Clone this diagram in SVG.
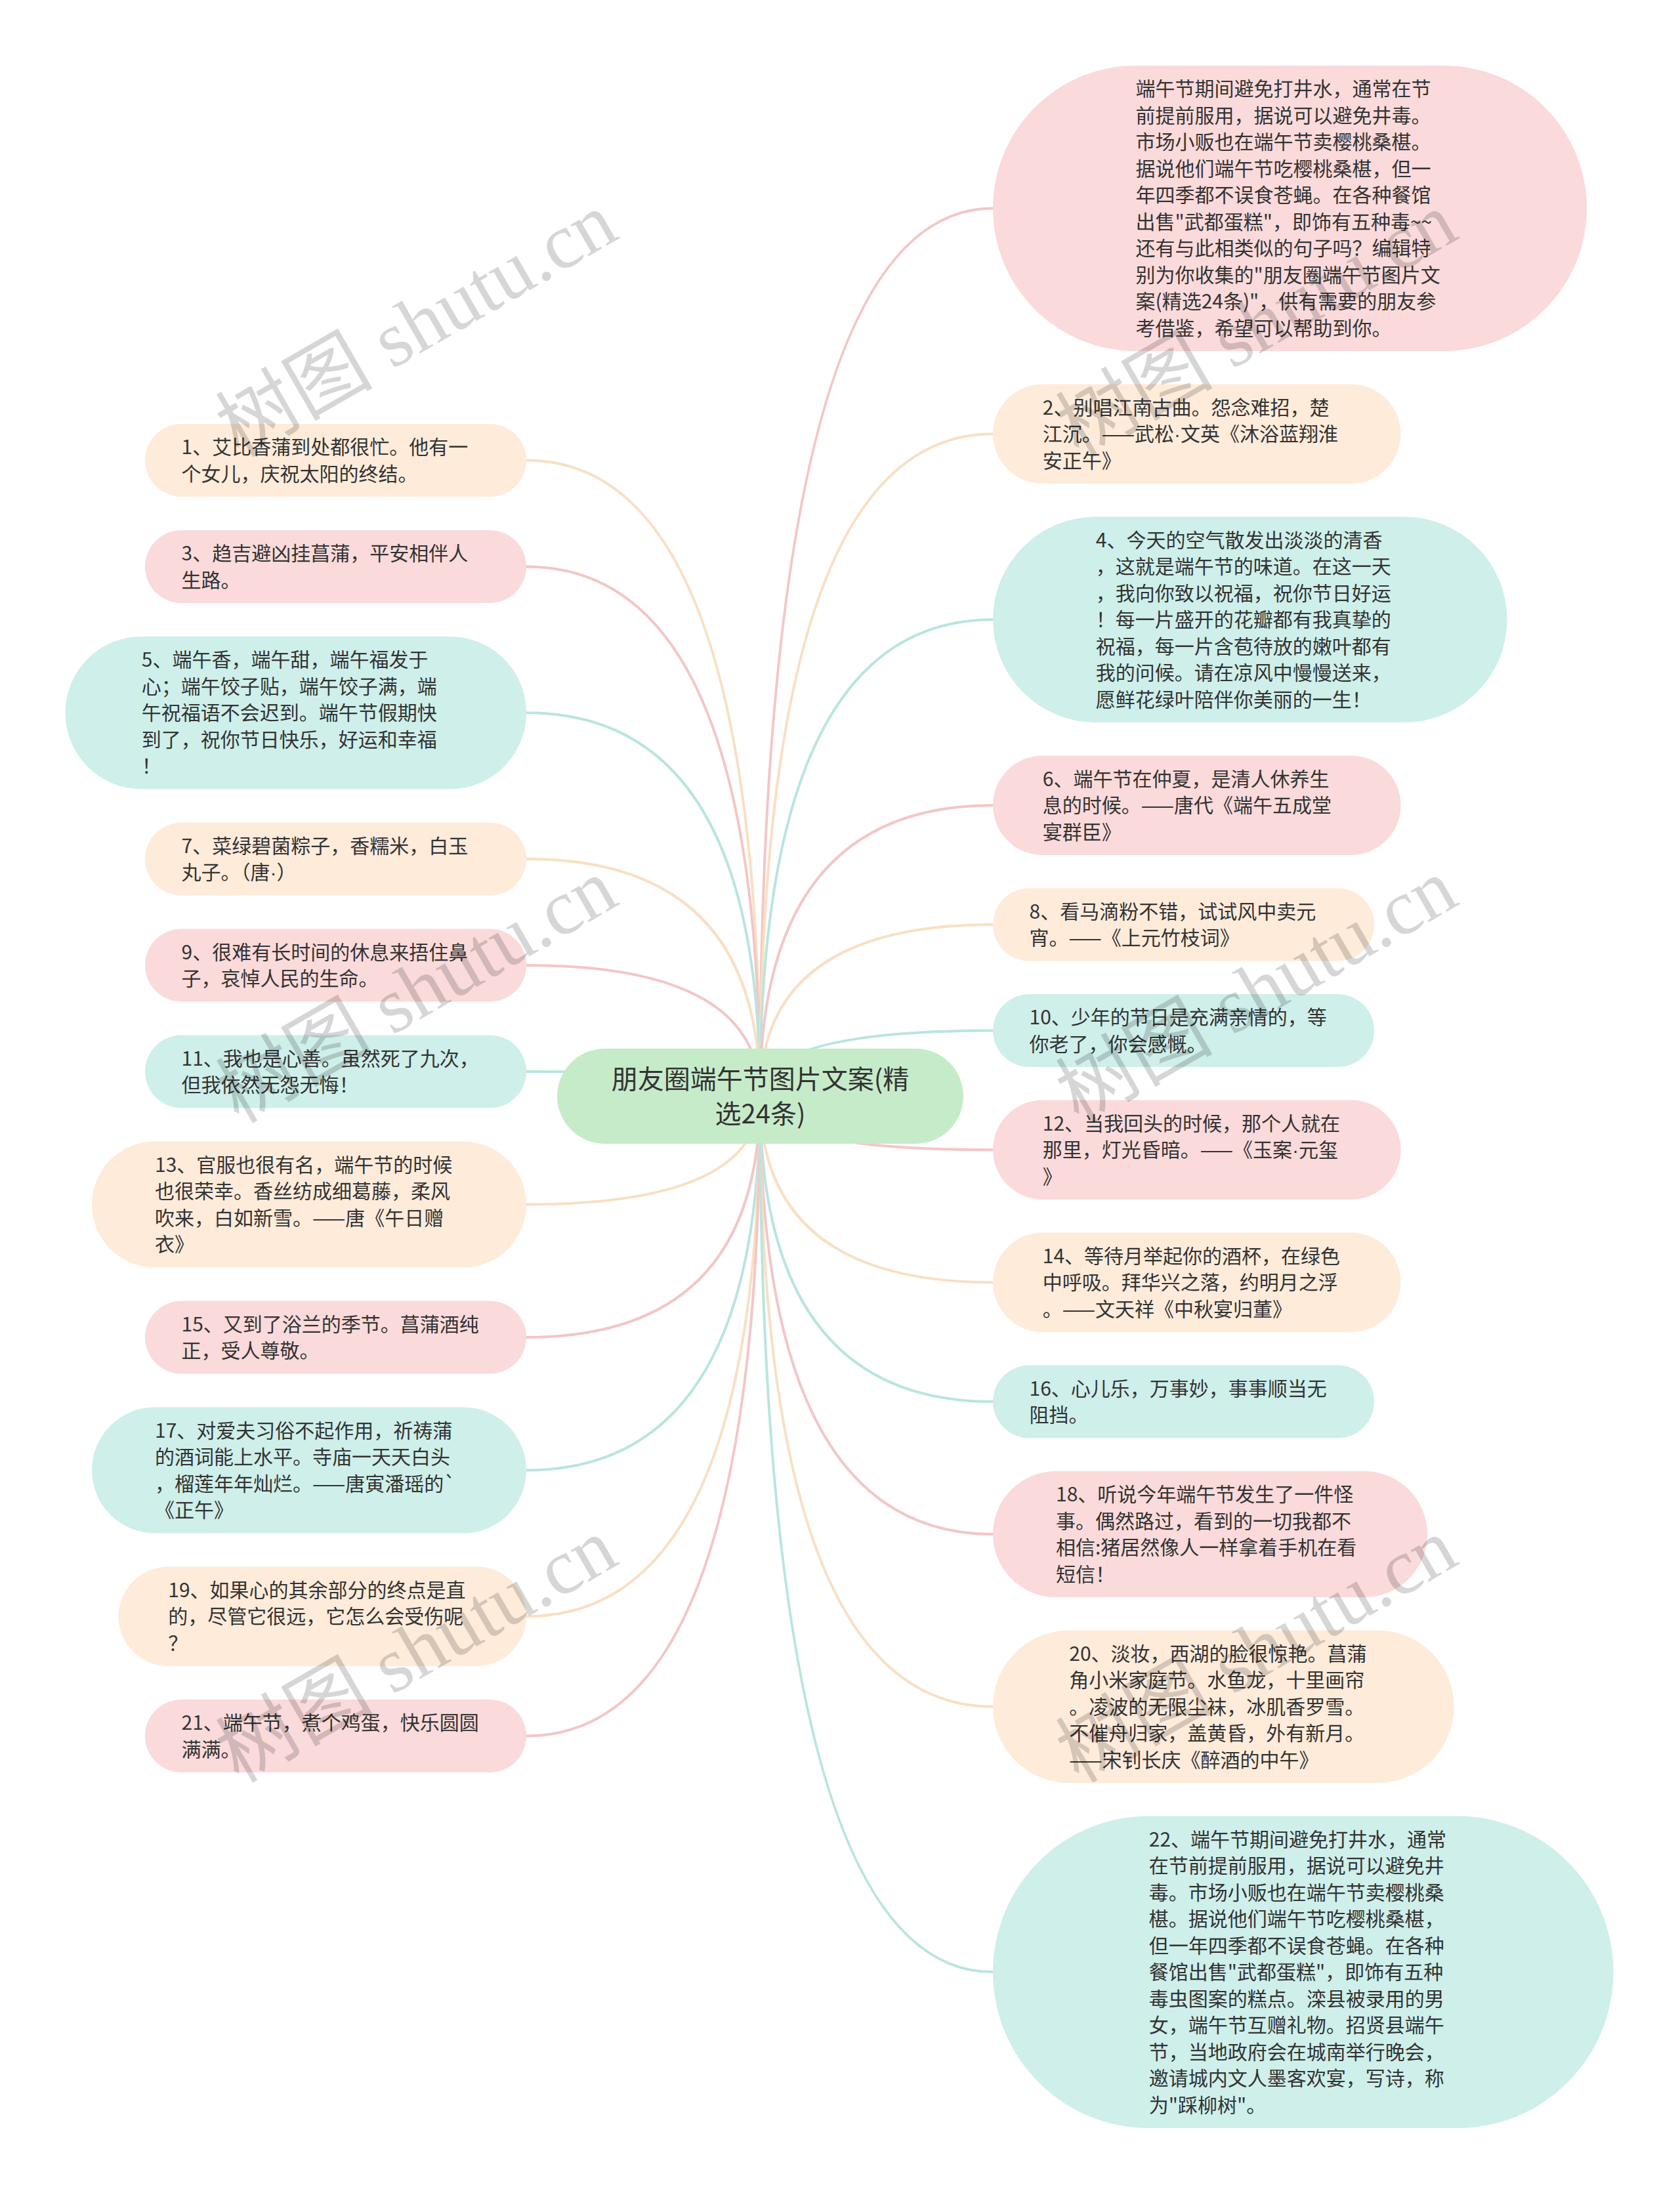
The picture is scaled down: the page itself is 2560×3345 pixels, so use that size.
<svg xmlns="http://www.w3.org/2000/svg" width="2560" height="3345" viewBox="0 0 2560 3345">
<style>
.t{font-family:"Noto Sans CJK SC","Noto Sans",sans-serif;font-size:30px;fill:#333333}
.root{font-family:"Noto Sans CJK SC","Noto Sans",sans-serif;font-size:40px;fill:#333333}
.d{font-family:"Liberation Sans",sans-serif}
.peach{fill:#FEEBDA}
.pink{fill:#FADADA}
.cyan{fill:#CEEFEA}
.green{fill:#C6EBC9}
.lp{stroke:#F9DFC3}
.lk{stroke:#F3C6C6}
.lc{stroke:#B9E5DE}
#connectors path{fill:none;stroke-width:4}
.wm{font-family:"Liberation Serif","Noto Sans CJK SC",serif;font-size:120px;fill:#000000;fill-opacity:0.16}
</style>
<rect x="0" y="0" width="2560" height="3345" fill="#ffffff"/>
<g id="connectors">
<path class="lp" d="M1158,1670 Q1158,701.5 802,701.5"/>
<path class="lk" d="M1158,1670 Q1158,863.5 802,863.5"/>
<path class="lc" d="M1158,1670 Q1158,1086.25 802,1086.25"/>
<path class="lp" d="M1158,1670 Q1158,1309 802,1309"/>
<path class="lk" d="M1158,1670 Q1158,1471 802,1471"/>
<path class="lc" d="M1158,1670 Q1158,1633 802,1633"/>
<path class="lp" d="M1158,1670 Q1158,1835.5 802,1835.5"/>
<path class="lk" d="M1158,1670 Q1158,2038 802,2038"/>
<path class="lc" d="M1158,1670 Q1158,2240.5 802,2240.5"/>
<path class="lp" d="M1158,1670 Q1158,2463.25 802,2463.25"/>
<path class="lk" d="M1158,1670 Q1158,2645.5 802,2645.5"/>
<path class="lk" d="M1158,1670 Q1158,317.5 1513,317.5"/>
<path class="lp" d="M1158,1670 Q1158,661.25 1513,661.25"/>
<path class="lc" d="M1158,1670 Q1158,944.25 1513,944.25"/>
<path class="lk" d="M1158,1670 Q1158,1227.25 1513,1227.25"/>
<path class="lp" d="M1158,1670 Q1158,1409 1513,1409"/>
<path class="lc" d="M1158,1670 Q1158,1570.5 1513,1570.5"/>
<path class="lk" d="M1158,1670 Q1158,1752.25 1513,1752.25"/>
<path class="lp" d="M1158,1670 Q1158,1954.25 1513,1954.25"/>
<path class="lc" d="M1158,1670 Q1158,2136 1513,2136"/>
<path class="lk" d="M1158,1670 Q1158,2338 1513,2338"/>
<path class="lp" d="M1158,1670 Q1158,2600.75 1513,2600.75"/>
<path class="lc" d="M1158,1670 Q1158,3005.25 1513,3005.25"/>
</g>

<g id="root">
<rect class="green" x="849" y="1598" width="619" height="145" rx="72.5"/>
<text class="root" text-anchor="middle"><tspan x="1158.5" y="1659">朋友圈端午节图片文案(精</tspan><tspan x="1158.5" y="1712">选24条)</tspan></text>
</g>

<g id="n1">
<rect class="peach" x="221" y="646" width="581" height="111" rx="55.5"/>
<text class="t"><tspan x="276.5" y="692">1、艾比香蒲到处都很忙。他有一</tspan><tspan x="276.5" dy="40.5">个女儿，庆祝太阳的终结。</tspan></text>
</g>
<g id="n3">
<rect class="pink" x="221" y="808" width="581" height="111" rx="55.5"/>
<text class="t"><tspan x="276.5" y="854">3、趋吉避凶挂菖蒲，平安相伴人</tspan><tspan x="276.5" dy="40.5">生路。</tspan></text>
</g>
<g id="n5">
<rect class="cyan" x="99.5" y="970" width="702.5" height="232.5" rx="116.25"/>
<text class="t"><tspan x="215.75" y="1016">5、端午香，端午甜，端午福发于</tspan><tspan x="215.75" dy="40.5">心；端午饺子贴，端午饺子满，端</tspan><tspan x="215.75" dy="40.5">午祝福语不会迟到。端午节假期快</tspan><tspan x="215.75" dy="40.5">到了，祝你节日快乐，好运和幸福</tspan><tspan x="215.75" dy="40.5">！</tspan></text>
</g>
<g id="n7">
<rect class="peach" x="221" y="1253.5" width="581" height="111" rx="55.5"/>
<text class="t"><tspan x="276.5" y="1299.5">7、菜绿碧菌粽子，香糯米，白玉</tspan><tspan x="276.5" dy="40.5">丸子。（唐<tspan class="d">·</tspan>）</tspan></text>
</g>
<g id="n9">
<rect class="pink" x="221" y="1415.5" width="581" height="111" rx="55.5"/>
<text class="t"><tspan x="276.5" y="1461.5">9、很难有长时间的休息来捂住鼻</tspan><tspan x="276.5" dy="40.5">子，哀悼人民的生命。</tspan></text>
</g>
<g id="n11">
<rect class="cyan" x="221" y="1577.5" width="581" height="111" rx="55.5"/>
<text class="t"><tspan x="276.5" y="1623.5">11、我也是心善。虽然死了九次，</tspan><tspan x="276.5" dy="40.5">但我依然无怨无悔！</tspan></text>
</g>
<g id="n13">
<rect class="peach" x="140" y="1739.5" width="662" height="192" rx="96"/>
<text class="t"><tspan x="236" y="1785.5">13、官服也很有名，端午节的时候</tspan><tspan x="236" dy="40.5">也很荣幸。香丝纺成细葛藤，柔风</tspan><tspan x="236" dy="40.5">吹来，白如新雪。——唐《午日赠</tspan><tspan x="236" dy="40.5">衣》</tspan></text>
</g>
<g id="n15">
<rect class="pink" x="221" y="1982.5" width="581" height="111" rx="55.5"/>
<text class="t"><tspan x="276.5" y="2028.5">15、又到了浴兰的季节。菖蒲酒纯</tspan><tspan x="276.5" dy="40.5">正，受人尊敬。</tspan></text>
</g>
<g id="n17">
<rect class="cyan" x="140" y="2144.5" width="662" height="192" rx="96"/>
<text class="t"><tspan x="236" y="2190.5">17、对爱夫习俗不起作用，祈祷蒲</tspan><tspan x="236" dy="40.5">的酒词能上水平。寺庙一天天白头</tspan><tspan x="236" dy="40.5">，榴莲年年灿烂。——唐寅潘瑶的`</tspan><tspan x="236" dy="40.5">《正午》</tspan></text>
</g>
<g id="n19">
<rect class="peach" x="180.5" y="2387.5" width="621.5" height="151.5" rx="75.75"/>
<text class="t"><tspan x="256.25" y="2433.5">19、如果心的其余部分的终点是直</tspan><tspan x="256.25" dy="40.5">的，尽管它很远，它怎么会受伤呢</tspan><tspan x="256.25" dy="40.5">？</tspan></text>
</g>
<g id="n21">
<rect class="pink" x="221" y="2590" width="581" height="111" rx="55.5"/>
<text class="t"><tspan x="276.5" y="2636">21、端午节，煮个鸡蛋，快乐圆圆</tspan><tspan x="276.5" dy="40.5">满满。</tspan></text>
</g>

<g id="r0">
<rect class="pink" x="1513" y="100" width="905" height="435" rx="217.5"/>
<text class="t"><tspan x="1730.5" y="146">端午节期间避免打井水，通常在节</tspan><tspan x="1730.5" dy="40.5">前提前服用，据说可以避免井毒。</tspan><tspan x="1730.5" dy="40.5">市场小贩也在端午节卖樱桃桑椹。</tspan><tspan x="1730.5" dy="40.5">据说他们端午节吃樱桃桑椹，但一</tspan><tspan x="1730.5" dy="40.5">年四季都不误食苍蝇。在各种餐馆</tspan><tspan x="1730.5" dy="40.5">出售"武都蛋糕"，即饰有五种毒~~</tspan><tspan x="1730.5" dy="40.5">还有与此相类似的句子吗？编辑特</tspan><tspan x="1730.5" dy="40.5">别为你收集的"朋友圈端午节图片文</tspan><tspan x="1730.5" dy="40.5">案(精选24条)"，供有需要的朋友参</tspan><tspan x="1730.5" dy="40.5">考借鉴，希望可以帮助到你。</tspan></text>
</g>
<g id="r2">
<rect class="peach" x="1513" y="585.5" width="621.5" height="151.5" rx="75.75"/>
<text class="t"><tspan x="1588.75" y="631.5">2、别唱江南古曲。怨念难招，楚</tspan><tspan x="1588.75" dy="40.5">江沉。——武松<tspan class="d">·</tspan>文英《沐浴蓝翔淮</tspan><tspan x="1588.75" dy="40.5">安正午》</tspan></text>
</g>
<g id="r4">
<rect class="cyan" x="1513" y="787.5" width="783.5" height="313.5" rx="156.75"/>
<text class="t"><tspan x="1669.75" y="833.5">4、今天的空气散发出淡淡的清香</tspan><tspan x="1669.75" dy="40.5">，这就是端午节的味道。在这一天</tspan><tspan x="1669.75" dy="40.5">，我向你致以祝福，祝你节日好运</tspan><tspan x="1669.75" dy="40.5">！每一片盛开的花瓣都有我真挚的</tspan><tspan x="1669.75" dy="40.5">祝福，每一片含苞待放的嫩叶都有</tspan><tspan x="1669.75" dy="40.5">我的问候。请在凉风中慢慢送来，</tspan><tspan x="1669.75" dy="40.5">愿鲜花绿叶陪伴你美丽的一生！</tspan></text>
</g>
<g id="r6">
<rect class="pink" x="1513" y="1151.5" width="621.5" height="151.5" rx="75.75"/>
<text class="t"><tspan x="1588.75" y="1197.5">6、端午节在仲夏，是清人休养生</tspan><tspan x="1588.75" dy="40.5">息的时候。——唐代《端午五成堂</tspan><tspan x="1588.75" dy="40.5">宴群臣》</tspan></text>
</g>
<g id="r8">
<rect class="peach" x="1513" y="1353.5" width="581" height="111" rx="55.5"/>
<text class="t"><tspan x="1568.5" y="1399.5">8、看马滴粉不错，试试风中卖元</tspan><tspan x="1568.5" dy="40.5">宵。——《上元竹枝词》</tspan></text>
</g>
<g id="r10">
<rect class="cyan" x="1513" y="1515" width="581" height="111" rx="55.5"/>
<text class="t"><tspan x="1568.5" y="1561">10、少年的节日是充满亲情的，等</tspan><tspan x="1568.5" dy="40.5">你老了，你会感慨。</tspan></text>
</g>
<g id="r12">
<rect class="pink" x="1513" y="1676.5" width="621.5" height="151.5" rx="75.75"/>
<text class="t"><tspan x="1588.75" y="1722.5">12、当我回头的时候，那个人就在</tspan><tspan x="1588.75" dy="40.5">那里，灯光昏暗。——《玉案<tspan class="d">·</tspan>元玺</tspan><tspan x="1588.75" dy="40.5">》</tspan></text>
</g>
<g id="r14">
<rect class="peach" x="1513" y="1878.5" width="621.5" height="151.5" rx="75.75"/>
<text class="t"><tspan x="1588.75" y="1924.5">14、等待月举起你的酒杯，在绿色</tspan><tspan x="1588.75" dy="40.5">中呼吸。拜华兴之落，约明月之浮</tspan><tspan x="1588.75" dy="40.5">。——文天祥《中秋宴归董》</tspan></text>
</g>
<g id="r16">
<rect class="cyan" x="1513" y="2080.5" width="581" height="111" rx="55.5"/>
<text class="t"><tspan x="1568.5" y="2126.5">16、心儿乐，万事妙，事事顺当无</tspan><tspan x="1568.5" dy="40.5">阻挡。</tspan></text>
</g>
<g id="r18">
<rect class="pink" x="1513" y="2242" width="662" height="192" rx="96"/>
<text class="t"><tspan x="1609" y="2288">18、听说今年端午节发生了一件怪</tspan><tspan x="1609" dy="40.5">事。偶然路过，看到的一切我都不</tspan><tspan x="1609" dy="40.5">相信:猪居然像人一样拿着手机在看</tspan><tspan x="1609" dy="40.5">短信！</tspan></text>
</g>
<g id="r20">
<rect class="peach" x="1513" y="2484.5" width="702.5" height="232.5" rx="116.25"/>
<text class="t"><tspan x="1629.25" y="2530.5">20、淡妆，西湖的脸很惊艳。菖蒲</tspan><tspan x="1629.25" dy="40.5">角小米家庭节。水鱼龙，十里画帘</tspan><tspan x="1629.25" dy="40.5">。凌波的无限尘袜，冰肌香罗雪。</tspan><tspan x="1629.25" dy="40.5">不催舟归家，盖黄昏，外有新月。</tspan><tspan x="1629.25" dy="40.5">——宋钊长庆《醉酒的中午》</tspan></text>
</g>
<g id="r22">
<rect class="cyan" x="1513" y="2767.5" width="945.5" height="475.5" rx="237.75"/>
<text class="t"><tspan x="1750.75" y="2813.5">22、端午节期间避免打井水，通常</tspan><tspan x="1750.75" dy="40.5">在节前提前服用，据说可以避免井</tspan><tspan x="1750.75" dy="40.5">毒。市场小贩也在端午节卖樱桃桑</tspan><tspan x="1750.75" dy="40.5">椹。据说他们端午节吃樱桃桑椹，</tspan><tspan x="1750.75" dy="40.5">但一年四季都不误食苍蝇。在各种</tspan><tspan x="1750.75" dy="40.5">餐馆出售"武都蛋糕"，即饰有五种</tspan><tspan x="1750.75" dy="40.5">毒虫图案的糕点。滦县被录用的男</tspan><tspan x="1750.75" dy="40.5">女，端午节互赠礼物。招贤县端午</tspan><tspan x="1750.75" dy="40.5">节，当地政府会在城南举行晚会，</tspan><tspan x="1750.75" dy="40.5">邀请城内文人墨客欢宴，写诗，称</tspan><tspan x="1750.75" dy="40.5">为"踩柳树"。</tspan></text>
</g>

<g id="watermark">
<text class="wm" text-anchor="middle" transform="translate(655,530) rotate(-30)">树图 shutu.cn</text>
<text class="wm" text-anchor="middle" transform="translate(1935,530) rotate(-30)">树图 shutu.cn</text>
<text class="wm" text-anchor="middle" transform="translate(655,1545) rotate(-30)">树图 shutu.cn</text>
<text class="wm" text-anchor="middle" transform="translate(1935,1545) rotate(-30)">树图 shutu.cn</text>
<text class="wm" text-anchor="middle" transform="translate(655,2550) rotate(-30)">树图 shutu.cn</text>
<text class="wm" text-anchor="middle" transform="translate(1935,2550) rotate(-30)">树图 shutu.cn</text>
</g>
</svg>
